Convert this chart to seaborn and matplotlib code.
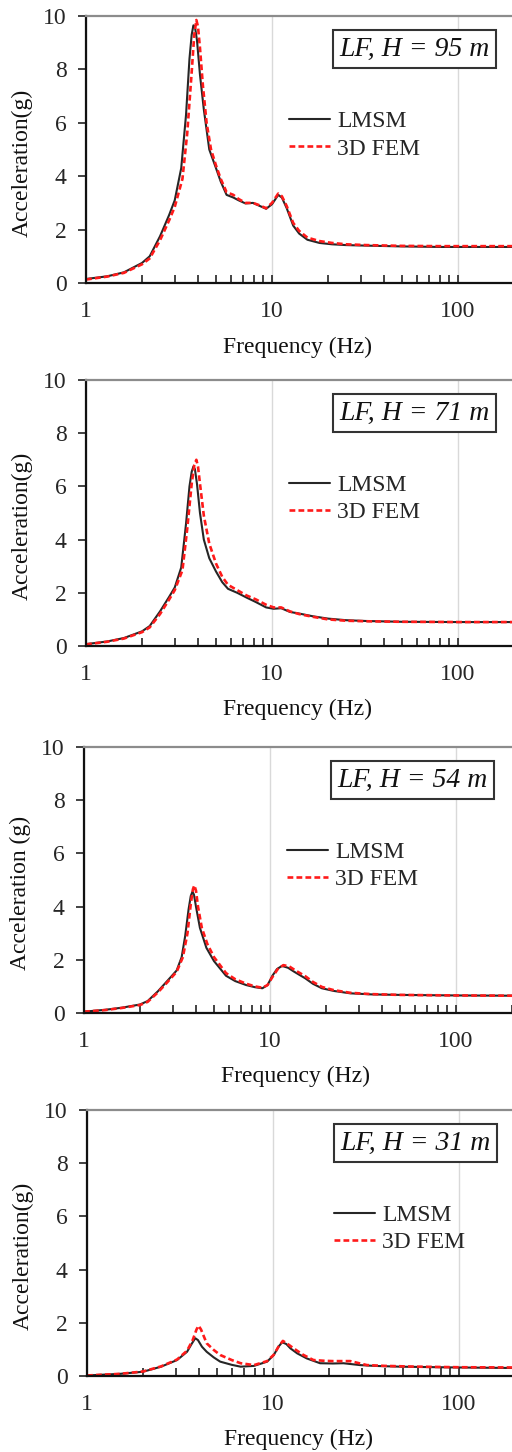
import numpy as np
import pandas as pd
import matplotlib
matplotlib.use("Agg")
import matplotlib.pyplot as plt
import seaborn as sns
from matplotlib.ticker import LogLocator, NullFormatter

# ---------------- data ----------------
titles = ["LF, H = 95 m", "LF, H = 71 m", "LF, H = 54 m", "LF, H = 31 m"]
ylabels = ["Acceleration(g)", "Acceleration(g)", "Acceleration (g)", "Acceleration(g)"]
series_names = ["LMSM", "3D FEM"]
xtick_vals = [1, 10, 100]
xtick_labels = ["1", "10", "100"]
ytick_vals = [0, 2, 4, 6, 8, 10]

# H = 95 m
f95_lmsm = [1, 1.3, 1.6, 2.0, 2.2, 2.5, 2.8, 3.0, 3.25, 3.45, 3.6, 3.7, 3.78, 3.85, 3.95, 4.1, 4.3, 4.6,
            5.0, 5.3, 5.7, 6.2, 6.6, 7.2, 7.9, 8.5, 9.3, 10.0, 10.8, 11.3, 12.0, 13.0, 14.0, 15.5, 18,
            21, 25, 32, 50, 80, 130, 200]
a95_lmsm = [0.15, 0.25, 0.4, 0.75, 1.0, 1.75, 2.55, 3.1, 4.3, 6.3, 8.4, 9.3, 9.65, 9.6, 9.1, 7.8, 6.5, 5.0,
            4.3, 3.8, 3.3, 3.2, 3.1, 2.98, 3.0, 2.9, 2.78, 2.95, 3.3, 3.2, 2.8, 2.15, 1.85, 1.62, 1.5,
            1.45, 1.42, 1.4, 1.37, 1.35, 1.35, 1.35]
f95_fem = [1, 1.3, 1.6, 2.0, 2.2, 2.5, 2.8, 3.0, 3.3, 3.5, 3.7, 3.82, 3.92, 4.0, 4.1, 4.25, 4.45, 4.7,
           5.0, 5.3, 5.7, 6.2, 6.6, 7.2, 7.9, 8.5, 9.3, 10.0, 10.8, 11.3, 12.0, 13.0, 14.0, 15.5, 18,
           21, 25, 32, 50, 80, 130, 200]
a95_fem = [0.13, 0.24, 0.38, 0.7, 0.92, 1.6, 2.35, 2.85, 3.9, 5.6, 7.9, 9.3, 9.85, 9.6, 8.8, 7.4, 6.0, 5.0,
           4.4, 3.9, 3.4, 3.3, 3.15, 3.0, 3.0, 2.92, 2.8, 3.0, 3.35, 3.25, 2.88, 2.25, 1.95, 1.7, 1.57,
           1.5, 1.45, 1.42, 1.39, 1.38, 1.38, 1.38]

# H = 71 m
f71_lmsm = [1, 1.3, 1.6, 2.0, 2.2, 2.5, 2.8, 3.0, 3.25, 3.45, 3.6, 3.7, 3.78, 3.85, 3.95, 4.1, 4.3, 4.6,
            5.0, 5.4, 5.8, 6.5, 7.3, 8.2, 9.3, 10.2, 11.2, 12.5, 14, 16.5, 20, 25, 32, 50, 100, 200]
a71_lmsm = [0.07, 0.17, 0.3, 0.55, 0.75, 1.3, 1.85, 2.2, 2.95, 4.6, 6.0, 6.55, 6.75, 6.65, 6.1, 5.0, 4.0, 3.3,
            2.8, 2.4, 2.15, 2.0, 1.82, 1.65, 1.45, 1.4, 1.42, 1.28, 1.22, 1.12, 1.03, 0.97, 0.94, 0.91, 0.9, 0.9]
f71_fem = [1, 1.3, 1.6, 2.0, 2.2, 2.5, 2.8, 3.0, 3.3, 3.5, 3.7, 3.82, 3.92, 4.0, 4.1, 4.3, 4.6,
           5.0, 5.4, 5.8, 6.5, 7.3, 8.2, 9.3, 10.2, 11.2, 12.5, 14, 16.5, 20, 25, 32, 50, 100, 200]
a71_fem = [0.06, 0.16, 0.28, 0.52, 0.7, 1.2, 1.75, 2.1, 2.85, 4.4, 6.1, 6.8, 7.0, 6.75, 6.1, 4.9, 3.85,
           3.1, 2.6, 2.3, 2.1, 1.9, 1.75, 1.55, 1.45, 1.45, 1.3, 1.2, 1.1, 1.0, 0.95, 0.93, 0.91, 0.9, 0.9]

# H = 54 m
f54_lmsm = [1, 1.3, 1.6, 2.0, 2.2, 2.5, 2.8, 3.15, 3.35, 3.5, 3.65, 3.75, 3.83, 3.9, 4.0, 4.2, 4.55, 5.0,
            5.8, 6.5, 7.45, 8.3, 9.1, 9.7, 10.3, 10.9, 11.6, 12.5, 13.5, 15.5, 17, 19, 22, 27, 35, 50, 100, 200]
a54_lmsm = [0.05, 0.12, 0.2, 0.32, 0.45, 0.82, 1.2, 1.6, 2.1, 2.9, 3.9, 4.4, 4.56, 4.45, 4.0, 3.2, 2.45, 1.95,
            1.4, 1.2, 1.05, 0.97, 0.93, 1.05, 1.4, 1.65, 1.77, 1.7, 1.55, 1.3, 1.1, 0.93, 0.83, 0.74, 0.7,
            0.68, 0.66, 0.65]
f54_fem = [1, 1.3, 1.6, 2.0, 2.2, 2.5, 2.8, 3.15, 3.4, 3.6, 3.75, 3.85, 3.92, 4.0, 4.1, 4.3, 4.6, 5.0,
           5.8, 6.5, 7.45, 8.3, 9.1, 9.7, 10.3, 11.0, 11.8, 12.7, 13.7, 15.5, 17, 19, 22, 27, 35, 50, 100, 200]
a54_fem = [0.05, 0.11, 0.19, 0.3, 0.42, 0.78, 1.15, 1.55, 2.1, 3.0, 4.1, 4.65, 4.8, 4.6, 4.0, 3.2, 2.6, 2.1,
           1.5, 1.27, 1.1, 1.0, 0.95, 1.05, 1.35, 1.65, 1.8, 1.75, 1.6, 1.38, 1.17, 0.98, 0.86, 0.76, 0.71,
           0.68, 0.66, 0.65]

# H = 31 m
f31_lmsm = [1, 1.5, 2.0, 2.5, 3.05, 3.45, 3.67, 3.82, 3.95, 4.15, 4.4, 4.8, 5.2, 6.0, 6.7, 7.9, 9.3, 10.1,
            10.7, 11.2, 11.8, 12.4, 13.5, 15.2, 17.9, 21, 23.9, 29.4, 35, 48.5, 100, 200]
a31_lmsm = [0.02, 0.08, 0.16, 0.35, 0.6, 0.91, 1.23, 1.42, 1.35, 1.1, 0.91, 0.7, 0.54, 0.42, 0.35, 0.38, 0.54,
            0.79, 1.1, 1.27, 1.2, 1.04, 0.85, 0.66, 0.48, 0.47, 0.48, 0.41, 0.38, 0.35, 0.32, 0.3]
f31_fem = [1, 1.5, 2.0, 2.5, 3.05, 3.45, 3.7, 3.88, 3.98, 4.1, 4.4, 4.8, 5.2, 6.0, 6.7, 7.9, 9.3, 10.1,
           10.7, 11.3, 11.9, 12.9, 14.5, 16.5, 19, 21, 26, 32, 40, 60, 100, 200]
a31_fem = [0.02, 0.08, 0.17, 0.36, 0.62, 0.95, 1.35, 1.75, 1.89, 1.75, 1.23, 0.98, 0.79, 0.6, 0.48, 0.41, 0.56,
           0.8, 1.1, 1.32, 1.22, 1.04, 0.8, 0.6, 0.57, 0.56, 0.56, 0.41, 0.38, 0.35, 0.33, 0.32]

panels = [
    (f95_lmsm, a95_lmsm, f95_fem, a95_fem),
    (f71_lmsm, a71_lmsm, f71_fem, a71_fem),
    (f54_lmsm, a54_lmsm, f54_fem, a54_fem),
    (f31_lmsm, a31_lmsm, f31_fem, a31_fem),
]

# ---------------- style ----------------
sns.set_theme(style="white")
plt.rcParams["font.family"] = ["Liberation Serif", "DejaVu Serif"]

W, H = 512, 1452
fig = plt.figure(figsize=(W / 100, H / 100), dpi=100)

# layout (pixels): left, top, bottom of each panel
layout = [(86, 16, 283), (86, 380, 646), (84, 747, 1013), (87, 1110, 1376)]
leg_x = [0.474, 0.474, 0.474, 0.577]
axw_px = 428
FS = 17
LW = [1.5, 1.9]

for i, ((fl, al, ff, af), (lpx, tpx, bpx)) in enumerate(zip(panels, layout)):
    ax = fig.add_axes([lpx / W, 1 - bpx / H, axw_px / W, (bpx - tpx) / H])
    df = pd.concat([
        pd.DataFrame({"f": fl, "a": al, "model": series_names[0]}),
        pd.DataFrame({"f": ff, "a": af, "model": series_names[1]}),
    ], ignore_index=True)
    sns.lineplot(data=df, x="f", y="a", hue="model", style="model",
                 palette={"LMSM": "#262626", "3D FEM": "#ff1a1a"},
                 dashes={"LMSM": "", "3D FEM": (2.2, 1.2)},
                 sort=False, estimator=None, ax=ax, legend=True)
    for ln, lw in zip(ax.get_lines()[:2], LW):
        ln.set_linewidth(lw)
        ln.set_solid_joinstyle("round")

    ax.set_xscale("log")
    ax.set_xlim(1, 200)
    ax.set_ylim(0, 10)
    ax.set_xticks(xtick_vals)
    ax.set_xticklabels(xtick_labels)
    ax.xaxis.set_minor_locator(LogLocator(base=10, subs=np.arange(2, 10)))
    ax.xaxis.set_minor_formatter(NullFormatter())
    ax.set_yticks(ytick_vals)
    ax.set_yticklabels([str(v) for v in ytick_vals])

    ax.tick_params(axis="x", which="both", direction="in", length=6, width=1.2,
                   color="#222222", labelsize=FS, pad=13, bottom=True)
    ax.tick_params(axis="y", which="major", direction="out", length=6, width=1.2,
                   color="#222222", labelsize=FS, pad=8, left=True)
    ax.xaxis.grid(True, which="major", color="#d9d9d9", linewidth=1.0)
    ax.yaxis.grid(False)

    for side in ["left", "bottom"]:
        ax.spines[side].set_color("#111111")
        ax.spines[side].set_linewidth(1.6)
    ax.spines["top"].set_color("#8c8c8c")
    ax.spines["top"].set_linewidth(1.6)
    ax.spines["right"].set_visible(False)

    ax.set_xlabel("Frequency (Hz)", fontsize=FS, color="#111111")
    ax.set_ylabel(ylabels[i], fontsize=FS, color="#111111")
    ax.xaxis.set_label_coords(0.495, -0.2)
    ax.yaxis.set_label_coords(-0.124, 0.45)

    ax.text(0.768, 0.876, titles[i], transform=ax.transAxes, fontsize=20, style="italic",
            ha="center", va="center", color="#111111",
            bbox=dict(boxstyle="square,pad=0.22", facecolor="white", edgecolor="#333333", linewidth=1.5))

    handles, labels = ax.get_legend_handles_labels()
    leg = ax.legend(handles=handles, labels=labels, loc="upper left",
                    bbox_to_anchor=(leg_x[i], 0.645), frameon=False, fontsize=FS,
                    handlelength=1.75, handletextpad=0.3, labelspacing=0.25,
                    borderpad=0, borderaxespad=0)
    for h, lw in zip(leg.get_lines(), LW):
        h.set_linewidth(lw)

fig.savefig("out.png", dpi=100)
